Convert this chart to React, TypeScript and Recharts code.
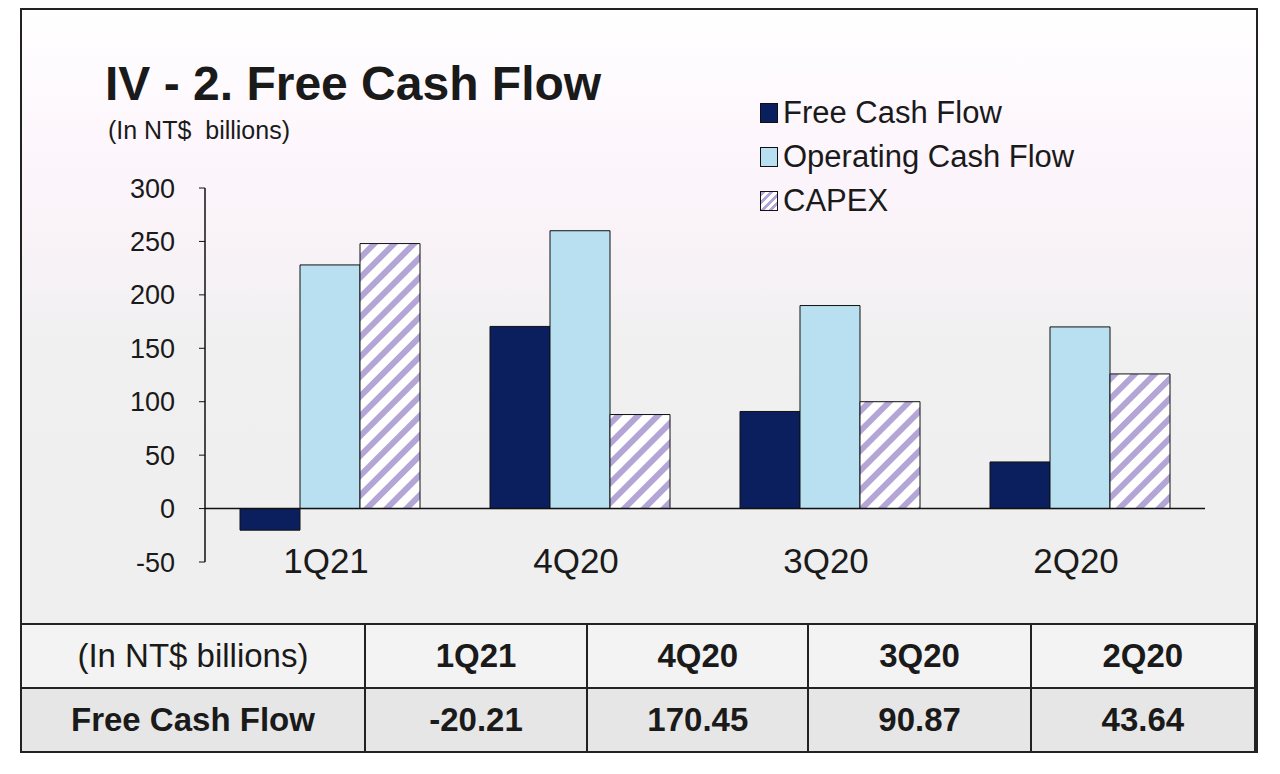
import { Bar, BarChart, CartesianGrid, ReferenceLine, XAxis, YAxis } from "recharts";

const quarters = ["1Q21", "4Q20", "3Q20", "2Q20"];
const freeCashFlow = [-20.21, 170.45, 90.87, 43.64];
const operatingCashFlow = [228, 260, 190, 170];
const capex = [248, 88, 100, 126];
const yTicks = [-50, 0, 50, 100, 150, 200, 250, 300];

const data = quarters.map((q, i) => ({
  q,
  fcf: freeCashFlow[i],
  ocf: operatingCashFlow[i],
  capex: capex[i],
}));

const font = "'Liberation Sans', Arial, sans-serif";
const navy = "#0b1f5e";
const sky = "#b9e0f1";

function LegendItem({ kind, label }: { kind: string; label: string }) {
  const sw =
    kind === "fcf"
      ? { background: navy }
      : kind === "ocf"
      ? { background: sky }
      : {
          background:
            "repeating-linear-gradient(-45deg,#fff 0 3px,#b3a6d6 3px 6px)",
        };
  return (
    <div style={{ display: "flex", alignItems: "center", height: 44 }}>
      <span
        style={{
          width: 16,
          height: 18,
          border: "1.5px solid #111",
          marginRight: 5,
          ...sw,
        }}
      />
      <span>{label}</span>
    </div>
  );
}

const cell = (w: number, bold: boolean, bg: string) => ({
  width: w,
  height: 62,
  display: "flex",
  alignItems: "center",
  justifyContent: "center",
  fontWeight: bold ? 700 : 400,
  background: bg,
  borderRight: "2px solid #222",
  boxSizing: "border-box" as const,
});

export default function App() {
  const widths = [345, 223, 222, 223, 225];
  return (
    <div
      style={{
        position: "relative",
        width: 1280,
        height: 774,
        margin: -8,
        background: "#fff",
        fontFamily: font,
        color: "#1a1a1a",
      }}
    >
      <div
        style={{
          position: "absolute",
          left: 20,
          top: 8,
          width: 1238,
          height: 742,
          border: "2px solid #222",
          boxSizing: "border-box",
          background:
            "linear-gradient(#ffffff 0px, #fdf5fc 150px, #f7f2f6 260px, #f0f0f0 330px, #eeeeee 742px)",
        }}
      />
      <div style={{ position: "absolute", left: 105, top: 56, fontSize: 48, fontWeight: 700 }}>
        IV - 2. Free Cash Flow
      </div>
      <div style={{ position: "absolute", left: 108, top: 116, fontSize: 25 }}>
        (In NT$&nbsp; billions)
      </div>
      <div style={{ position: "absolute", left: 760, top: 91, fontSize: 31 }}>
        <LegendItem kind="fcf" label="Free Cash Flow" />
        <LegendItem kind="ocf" label="Operating Cash Flow" />
        <LegendItem kind="capex" label="CAPEX" />
      </div>
      <div style={{ position: "absolute", left: 0, top: 0 }}>
        <BarChart
          width={1280}
          height={620}
          data={data}
          margin={{ top: 188, right: 75, bottom: 0, left: 145 }}
          barCategoryGap="14%"
          barGap={0}
        >
          <defs>
            <pattern id="stripes" width="14" height="14" patternUnits="userSpaceOnUse" patternTransform="rotate(45)">
              <rect width="14" height="14" fill="#fff" />
              <rect width="6" height="14" fill="#b3a6d6" />
            </pattern>
          </defs>
          <CartesianGrid stroke="none" />
          <XAxis
            dataKey="q"
            height={58}
            axisLine={false}
            tickLine={false}
            tick={{ fontSize: 35, fill: "#1a1a1a", fontFamily: font, dy: -22, dx: -4 }}
          />
          <YAxis
            domain={[-50, 300]}
            ticks={yTicks}
            width={60}
            interval={0}
            axisLine={{ stroke: "#111", strokeWidth: 1.5 }}
            tickLine={{ stroke: "#111" }}
            tickSize={6}
            tick={{ fontSize: 27, fill: "#1a1a1a", fontFamily: font, dx: -22 }}
          />
          <ReferenceLine y={0} stroke="#111" strokeWidth={1.5} />
          <Bar dataKey="fcf" fill={navy} stroke="#111" strokeWidth={1} isAnimationActive={false} />
          <Bar dataKey="ocf" fill={sky} stroke="#111" strokeWidth={1} isAnimationActive={false} />
          <Bar dataKey="capex" fill="url(#stripes)" stroke="#111" strokeWidth={1} isAnimationActive={false} />
        </BarChart>
      </div>
      <div
        style={{
          position: "absolute",
          left: 20,
          top: 623,
          width: 1238,
          border: "2px solid #222",
          boxSizing: "border-box",
          fontSize: 33,
        }}
      >
        <div style={{ display: "flex", borderBottom: "2px solid #222" }}>
          {["(In NT$ billions)", ...quarters].map((t, i) => (
            <div key={t} style={cell(widths[i], i > 0, "#f3f3f3")}>{t}</div>
          ))}
        </div>
        <div style={{ display: "flex" }}>
          {["Free Cash Flow", ...freeCashFlow.map((v) => v.toFixed(2))].map((t, i) => (
            <div key={t} style={cell(widths[i], true, "#e6e6e6")}>{t}</div>
          ))}
        </div>
      </div>
    </div>
  );
}
